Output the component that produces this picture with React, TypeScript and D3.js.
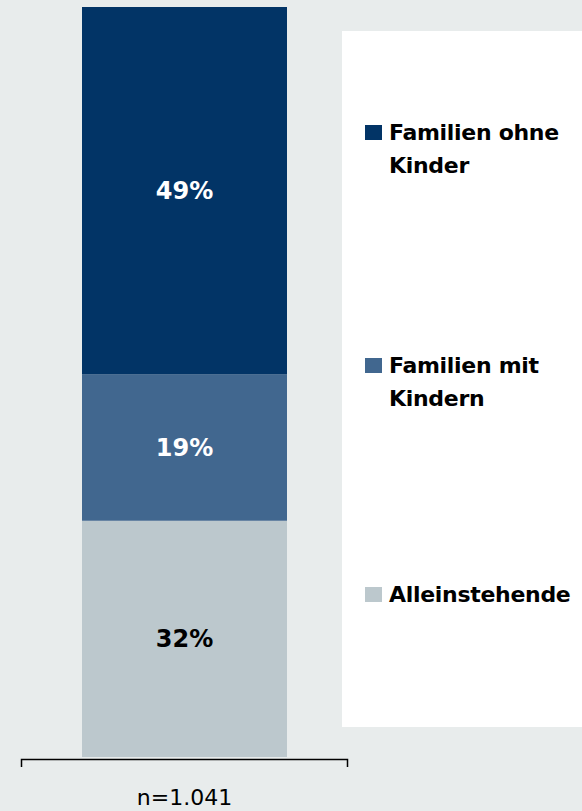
import React from "react";
import * as d3 from "d3";

const categories = ["Alleinstehende", "Familien mit Kindern", "Familien ohne Kinder"];
const values = [31.5, 19.5, 49];
const valueLabels = ["32%", "19%", "49%"];
const colors = ["#bcc8cd", "#41678f", "#023466"];
const labelColors = ["#000000", "#ffffff", "#ffffff"];
const legendLines = [["Alleinstehende"], ["Familien mit", "Kindern"], ["Familien ohne", "Kinder"]];
const legendBaselines = [602, 373, 140];
const sampleLabel = "n=1.041";

const width = 582;
const height = 811;
const bg = "#e8ecec";
const font = "'DejaVu Sans', Verdana, sans-serif";

export default function App() {
  const y = d3.scaleLinear().domain([0, 100]).range([757, 7]);
  const x = d3.scaleBand().domain(["all"]).range([21, 348]).paddingInner(0).paddingOuter(0.2976);

  const stack = d3.stack<any>().keys(categories)([
    Object.fromEntries(categories.map((c, i) => [c, values[i]])),
  ]);

  const bx = x("all") as number;
  const bw = x.bandwidth();

  return (
    <svg
      width={width}
      height={height}
      style={{ position: "absolute", left: 0, top: 0, background: bg }}
    >
      <rect x={0} y={0} width={width} height={height} fill={bg} />
      {/* legend panel */}
      <rect x={342} y={31} width={240} height={696} fill="#ffffff" />

      {stack.map((s, i) => {
        const d = s[0];
        const y0 = y(d[0]);
        const y1 = y(d[1]);
        return (
          <g key={categories[i]}>
            <rect x={bx} y={y1} width={bw} height={y0 - y1} fill={colors[i]} />
            <text
              x={bx + bw / 2}
              y={(y0 + y1) / 2 + 8}
              textAnchor="middle"
              fontFamily={font}
              fontWeight="bold"
              fontSize={24}
              fill={labelColors[i]}
            >
              {valueLabels[i]}
            </text>
          </g>
        );
      })}

      {/* bracket axis */}
      <path d="M21.5,767V759.5H347.5V767" fill="none" stroke="#000" strokeWidth={1.5} />
      <text
        x={184.5}
        y={805}
        textAnchor="middle"
        fontFamily={font}
        fontSize={22}
        fill="#000"
      >
        {sampleLabel}
      </text>

      {categories.map((c, i) => (
        <g key={c}>
          <rect x={365} y={legendBaselines[i] - 15} width={17} height={15} fill={colors[i]} />
          <text
            x={389}
            y={legendBaselines[i]}
            fontFamily={font}
            fontWeight="bold"
            fontSize={22}
            letterSpacing={-0.3}
            fill="#000"
          >
            {legendLines[i].map((ln, j) => (
              <tspan key={j} x={389} dy={j === 0 ? 0 : 32.5}>
                {ln}
              </tspan>
            ))}
          </text>
        </g>
      ))}
    </svg>
  );
}
